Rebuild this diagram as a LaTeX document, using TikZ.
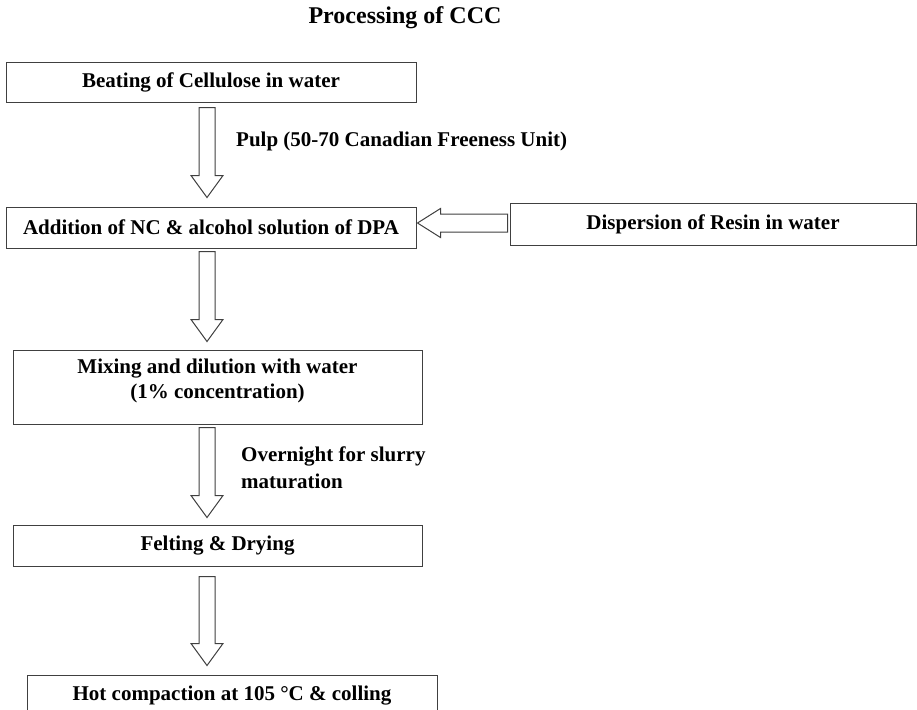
\documentclass[tikz,border=0pt]{standalone}
\usepackage{fontspec}
\setmainfont{Liberation Serif}
\usepackage{tikz}
\usetikzlibrary{positioning, calc}

\tikzset{
  stepbox/.style={draw=black!75, line width=1pt, inner sep=0pt, minimum height=41pt,
    align=center, font=\fontsize{21}{25}\selectfont\bfseries},
  steplabel/.style={inner sep=0pt, anchor=west, align=left, font=\fontsize{21}{27}\selectfont\bfseries},
  fatdown/.style={draw=black!75, line width=1pt, fill=white,
    to path={let \p1=(\tikztostart), \p2=(\tikztotarget) in
      (\x1-8pt,\y1) -- (\x1+8pt,\y1) -- (\x1+8pt,\y2+22pt) -- (\x1+16pt,\y2+22pt)
      -- (\x1,\y2) -- (\x1-16pt,\y2+22pt) -- (\x1-8pt,\y2+22pt) -- cycle}},
  fatleft/.style={draw=black!75, line width=1pt, fill=white,
    to path={let \p1=(\tikztostart), \p2=(\tikztotarget) in
      (\x1,\y1-9pt) -- (\x1,\y1+9pt) -- (\x2+23pt,\y1+9pt) -- (\x2+23pt,\y1+14.5pt)
      -- (\x2,\y1) -- (\x2+23pt,\y1-14.5pt) -- (\x2+23pt,\y1-9pt) -- cycle}}
}

\begin{document}
\begin{tikzpicture}[x=1pt, y=-1pt]
            \useasboundingbox (0,0) rectangle (917,709);
            \clip (0,0) rectangle (917,709);
            \coordinate (spine) at (207,0);

            \node[font=\fontsize{24}{28}\selectfont\bfseries] (title) at (405,18) {Processing of CCC};

            \node[stepbox, minimum width=410pt, minimum height=40pt] (beat) at (211,82) {Beating of Cellulose in water};
            \node[stepbox, minimum width=410pt] (addn) [below = 104pt of beat] {Addition of NC \& alcohol solution of DPA};
            \node[stepbox, minimum width=406pt, minimum height=42pt] (disp) [right = 93pt of addn, yshift=3.5pt] {Dispersion of Resin in water};
            \node[stepbox, minimum width=409pt, minimum height=74pt] (mix) [below = 101pt of addn, xshift=6.5pt] {Mixing and dilution with water\\(1\% concentration)\\[-9pt]};
            \node[stepbox, minimum width=409pt] (felt) [below = 100pt of mix] {Felting \& Drying};
            \node[stepbox, minimum width=410pt] (hot) [below = 108pt of felt, xshift=14.5pt] {Hot compaction at 105 \textdegree C \& colling};

            \node[steplabel] (pulp) at (236,141) {Pulp (50-70 Canadian Freeness Unit)};
            \node[steplabel] (night) at (241,468) {Overnight for slurry\\maturation};

            \path[fatdown] ([yshift=-5pt]beat.south -| spine) to ([yshift=9pt]addn.north -| spine);
            \path[fatdown] ([yshift=-3pt]addn.south -| spine) to ([yshift=8pt]mix.north -| spine);
            \path[fatdown] ([yshift=-3pt]mix.south -| spine) to ([yshift=7pt]felt.north -| spine);
            \path[fatdown] ([yshift=-10pt]felt.south -| spine) to ([yshift=9pt]hot.north -| spine);
            \path[fatleft] ([xshift=-2pt, yshift=1pt]disp.west) to ([xshift=1pt]addn.east);
        \end{tikzpicture}
\end{document}
